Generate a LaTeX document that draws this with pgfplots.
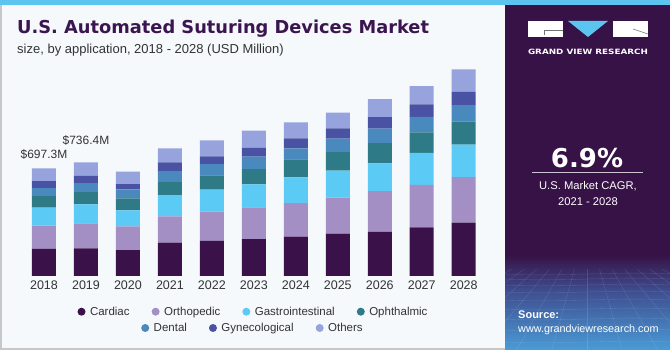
\documentclass[border=0pt]{standalone}
\usepackage{pgfplots}
\pgfplotsset{compat=1.18}
\usepackage{pgfplotstable}
\usepackage{graphicx}
\usepackage{fontspec}
\setmainfont{Liberation Sans}
\newfontfamily\dejabold{DejaVu Sans}[BoldFont={DejaVu Sans Bold}]

\definecolor{cardiac}{HTML}{3A1148}
\definecolor{ortho}{HTML}{A48FC4}
\definecolor{gastro}{HTML}{5BCBF5}
\definecolor{ophth}{HTML}{2E7A87}
\definecolor{dental}{HTML}{4A89BD}
\definecolor{gyn}{HTML}{4A52A3}
\definecolor{others}{HTML}{97A3DC}
\definecolor{panel}{HTML}{371246}
\definecolor{bg}{HTML}{F5F9FC}
\definecolor{stripe}{HTML}{5BC4EF}
\definecolor{titlec}{HTML}{3B1550}
\definecolor{txt}{HTML}{333333}
\definecolor{gvrblue}{HTML}{4A9BD6}
\definecolor{gvrmid}{HTML}{3E4C8E}

\pgfplotstableread{
x cardiac ortho gastro ophth dental gyn others
0 174.8 151.1 116.5 75.5 51.8 45.3 82.0
1 179.1 161.9 123.0 79.8 58.3 47.5 86.3
2 168.3 153.2 103.6 77.7 58.3 34.5 79.8
3 215.8 170.5 138.1 84.2 71.2 56.1 90.6
4 226.6 189.9 142.4 92.8 73.4 49.6 103.6
5 239.5 205.0 148.9 99.3 79.8 58.3 110.1
6 254.6 218.0 166.2 116.5 71.2 64.7 103.6
7 274.1 233.1 174.8 120.8 86.3 66.9 101.4
8 284.9 265.4 179.1 131.6 92.8 75.5 116.5
9 315.1 274.1 207.2 133.8 99.3 82.0 118.7
10 345.3 295.6 209.3 148.9 107.9 86.3 144.6
}\data

\pgfplotsset{
  circ/.style={legend image code/.code={\fill (0pt,0pt) circle (4pt);}},
  mylegend/.style={
    legend style={draw=none, fill=none, anchor=center,
      font=\fontsize{11.5}{13}\selectfont, text=txt,
      /tikz/every odd column/.append style={column sep=2.5pt},
      /tikz/every even column/.append style={column sep=20pt}},
  },
  base/.style={at={(23pt,74pt)}, anchor=south west, scale only axis,
    width=461.7pt, height=200pt, xmin=-0.5, xmax=10.5, ymin=0, ymax=1295,
    clip=false},
}

\begin{document}
\begin{tikzpicture}[x=1pt,y=1pt]
\useasboundingbox (0,0) rectangle (670,350);
\fill[bg] (0,0) rectangle (670,350);
\draw[black!22, line width=1.5pt] (0.75,345) -- (0.75,0.75) -- (505,0.75);
% right panel
\fill[panel] (505,0) rectangle (670,345);
\shade[top color=panel, bottom color=gvrmid] (505,60) rectangle (670,95);
\shade[top color=gvrmid, bottom color=gvrblue] (505,0) rectangle (670,60.5);
\begin{scope}
\clip (505,0) rectangle (670,80);
\foreach \i in {-24,...,24} \draw[white, opacity=0.13, line width=0.4pt] (587+\i*3,115) -- (587+\i*38,-10);
\foreach \yy in {76,71,65,58,50,41,31,20,8} \draw[white, opacity=0.13, line width=0.4pt] (505,\yy) .. controls (560,\yy-3) and (615,\yy+3) .. (670,\yy);
\end{scope}
\fill[stripe] (0,345) rectangle (670,350);
% logo
\fill[white] (528,313) rectangle (563,329);
\draw[black!55, line width=0.5pt] (563,319.3) -- (544,319.3) -- (544,315);
\fill[stripe] (568,329) -- (608,329) -- (588,313) -- cycle;
\fill[white] (613,313) rectangle (648,329);
\draw[black!55, line width=0.5pt] (633,321) -- (648,316);
\node[text=white, inner sep=0] at (588,298.3) {\resizebox{120pt}{5.4pt}{\dejabold\bfseries GRAND VIEW RESEARCH}};
% CAGR
\node[text=white, font=\dejabold\bfseries\fontsize{26}{30}\selectfont, inner sep=0] at (587,192) {6.9\%};
\draw[white!75!panel, line width=1pt] (532,177) -- (643,177);
\node[text=white, font=\fontsize{11.2}{13}\selectfont, inner sep=0] at (588,164) {U.S. Market CAGR,};
\node[text=white, font=\fontsize{11.2}{13}\selectfont, inner sep=0] at (588,148) {2021 - 2028};
\node[text=white, font=\fontsize{11}{13}\selectfont\bfseries, anchor=west, inner sep=0] at (518,35) {Source:};
\node[text=white, font=\fontsize{10.8}{13}\selectfont, anchor=west, inner sep=0] at (518,20) {www.grandviewresearch.com};
% titles
\node[anchor=base west, inner sep=0, text=titlec, font=\dejabold\bfseries\fontsize{17.8}{20}\selectfont] at (17,316) {U.S. Automated Suturing Devices Market};
\node[anchor=base west, inner sep=0, text=txt, font=\fontsize{13}{15}\selectfont] at (17,296.7) {size, by application, 2018 - 2028 (USD Million)};

\begin{axis}[base, mylegend,
  ybar stacked, bar width=24pt,
  axis line style={draw=none}, major tick length=0pt,
  ytick=\empty, xtick={0,...,10},
  xticklabels={2018,2019,2020,2021,2022,2023,2024,2025,2026,2027,2028},
  xticklabel style={font=\fontsize{12.5}{14}\selectfont, text=txt, yshift=-1pt},
  legend columns=4,
  legend style={at={(0.4992,-0.1785)}},
]
\addplot[fill=cardiac, draw=none, circ] table[x=x, y=cardiac]{\data};
\addplot[fill=ortho, draw=none, circ] table[x=x, y=ortho]{\data};
\addplot[fill=gastro, draw=none, circ] table[x=x, y=gastro]{\data};
\addplot[fill=ophth, draw=none, circ] table[x=x, y=ophth]{\data};
\addplot[fill=dental, draw=none, circ] table[x=x, y=dental]{\data};
\addplot[fill=gyn, draw=none, circ] table[x=x, y=gyn]{\data};
\addplot[fill=others, draw=none, circ] table[x=x, y=others]{\data};
\legend{Cardiac, Orthopedic, Gastrointestinal, Ophthalmic}
\node[font=\fontsize{12}{14}\selectfont, text=txt] at (axis cs:0,697.3) [yshift=14.3pt] {\$697.3M};
\node[font=\fontsize{12}{14}\selectfont, text=txt] at (axis cs:1,736.4) [yshift=21.3pt] {\$736.4M};
\end{axis}

\begin{axis}[base, mylegend, hide axis, legend columns=3,
  legend style={at={(0.4981,-0.26)}}]
\addlegendimage{fill=dental, draw=none, circ}
\addlegendentry{Dental}
\addlegendimage{fill=gyn, draw=none, circ}
\addlegendentry{Gynecological}
\addlegendimage{fill=others, draw=none, circ}
\addlegendentry{Others}
\end{axis}
\end{tikzpicture}
\end{document}
